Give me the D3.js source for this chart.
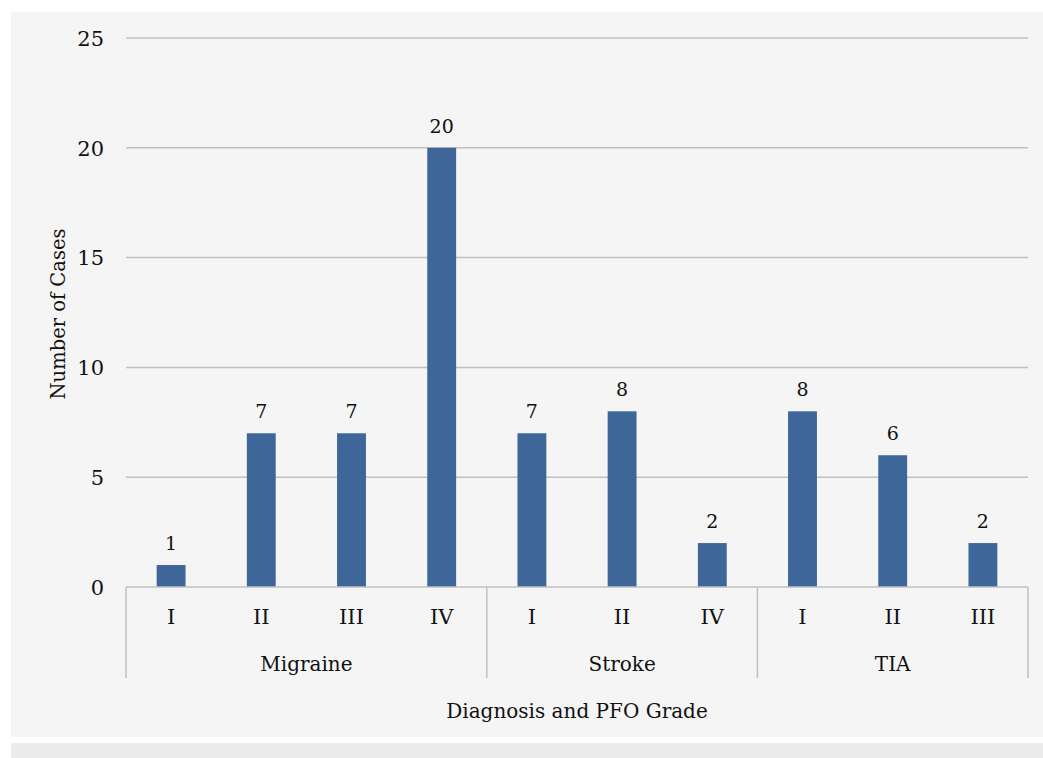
<!DOCTYPE html>
<html>
<head>
<meta charset="utf-8">
<script src="https://cdn.jsdelivr.net/npm/d3@7"></script>
<style>
  html, body { margin: 0; padding: 0; background: #ffffff; }
  svg { display: block; }
  text { font-family: "DejaVu Serif", "Liberation Serif", serif; fill: #111111; }
</style>
</head>
<body>
<svg id="chart" width="1043" height="758"></svg>
<script>
// PFO grade counts per diagnosis
const diagnoses = ["Migraine", "Stroke", "TIA"];
const grades = [
  ["I", "II", "III", "IV"],
  ["I", "II", "IV"],
  ["I", "II", "III"]
];
const caseCounts = [
  [1, 7, 7, 20],
  [7, 8, 2],
  [8, 6, 2]
];
const yTicks = [0, 5, 10, 15, 20, 25];

// flatten into one row per bar
const bars = [];
diagnoses.forEach((d, i) => {
  grades[i].forEach((g, j) => {
    bars.push({ key: d + "-" + g, diagnosis: d, grade: g, value: caseCounts[i][j] });
  });
});

const svg = d3.select("#chart");
const W = 1043, H = 758;
const m = { left: 126, right: 1028, top: 38, bottom: 587 };

// panel backgrounds
svg.append("rect").attr("x", 11).attr("y", 12).attr("width", W - 11).attr("height", 725).attr("fill", "#f5f5f5");
svg.append("rect").attr("x", 11).attr("y", 743).attr("width", W - 11).attr("height", 15).attr("fill", "#ececec");

const x = d3.scaleBand().domain(bars.map(b => b.key)).range([m.left, m.right]).paddingInner(0.68).paddingOuter(0.34);
const y = d3.scaleLinear().domain([0, 25]).range([m.bottom, m.top]);

// horizontal gridlines
svg.append("g").selectAll("line").data(yTicks.filter(t => t > 0)).join("line")
  .attr("x1", m.left).attr("x2", m.right)
  .attr("y1", d => y(d)).attr("y2", d => y(d))
  .attr("stroke", "#c0c0c0").attr("stroke-width", 1.5);

// y axis labels
const yAxis = d3.axisLeft(y).tickValues(yTicks).tickSize(0).tickPadding(22);
const yg = svg.append("g").attr("transform", `translate(${m.left},0)`).call(yAxis);
yg.select(".domain").remove();
yg.selectAll("text").attr("font-size", 21).attr("font-family", "DejaVu Serif, serif").attr("fill", "#111111").attr("dy", "0.35em");

// bars
svg.append("g").selectAll("rect").data(bars).join("rect")
  .attr("x", d => x(d.key)).attr("width", x.bandwidth())
  .attr("y", d => y(d.value)).attr("height", d => y(0) - y(d.value))
  .attr("fill", "#3e6698");

// value labels
svg.append("g").selectAll("text").data(bars).join("text")
  .attr("x", d => x(d.key) + x.bandwidth() / 2)
  .attr("y", d => y(d.value) - 15)
  .attr("text-anchor", "middle").attr("font-size", 19)
  .text(d => d.value);

// baseline
svg.append("line").attr("x1", m.left).attr("x2", m.right).attr("y1", y(0)).attr("y2", y(0))
  .attr("stroke", "#c0c0c0").attr("stroke-width", 1.5);

// grade tick labels
svg.append("g").selectAll("text").data(bars).join("text")
  .attr("x", d => x(d.key) + x.bandwidth() / 2)
  .attr("y", 624)
  .attr("text-anchor", "middle").attr("font-size", 21)
  .text(d => d.grade);

// group separators and diagnosis labels
const step = x.step();
let idx = 0;
const bounds = [m.left];
grades.forEach(g => { idx += g.length; bounds.push(m.left + step * idx); });
svg.append("g").selectAll("line").data(bounds).join("line")
  .attr("x1", d => d).attr("x2", d => d).attr("y1", y(0)).attr("y2", 678)
  .attr("stroke", "#c0c0c0").attr("stroke-width", 1.5);
svg.append("g").selectAll("text").data(diagnoses).join("text")
  .attr("x", (d, i) => (bounds[i] + bounds[i + 1]) / 2)
  .attr("y", 671)
  .attr("text-anchor", "middle").attr("font-size", 20)
  .text(d => d);

// axis titles
svg.append("text").attr("x", (m.left + m.right) / 2).attr("y", 718)
  .attr("text-anchor", "middle").attr("font-size", 20)
  .text("Diagnosis and PFO Grade");
svg.append("text").attr("transform", "translate(65,314) rotate(-90)")
  .attr("text-anchor", "middle").attr("font-size", 19.5)
  .text("Number of Cases");
</script>
</body>
</html>
